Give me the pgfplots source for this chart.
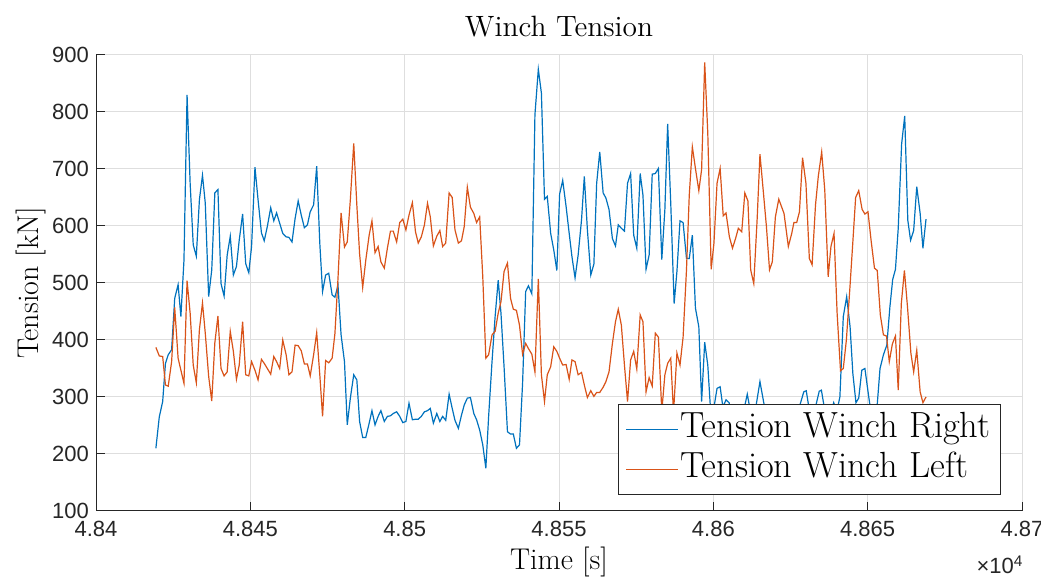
\documentclass[border=0pt]{standalone}
\usepackage{fontspec}
\usepackage{pgfplots}
\usepackage{pgfplotstable}
\pgfplotsset{compat=1.18}
\newfontfamily\ticksf{Liberation Sans}
\definecolor{mblue}{rgb}{0,0.447,0.741}
\definecolor{morange}{rgb}{0.85,0.325,0.098}
\definecolor{mgray}{rgb}{0.15,0.15,0.15}

\pgfplotstableread{
t v
48419.4 210
48420.5 265
48421.6 292
48422.5 359
48423.4 374
48424.5 383
48425.5 473
48426.6 497
48427.5 441
48428.5 540
48429.5 830
48430.5 675
48431.5 567
48432.5 547
48433.5 646
48434.5 689
48435.4 640
48436.5 476
48437.5 523
48438.5 658
48439.5 664
48440.5 499
48441.5 477
48442.5 549
48443.5 582
48444.5 514
48445.5 529
48446.4 575
48447.5 621
48448.5 534
48449.5 518
48450.4 564
48451.5 703
48452.5 646
48453.6 588
48454.5 574
48455.5 599
48456.6 632
48457.6 609
48458.5 623
48459.5 605
48460.5 587
48461.6 581
48462.5 580
48463.5 572
48464.5 613
48465.5 644
48466.5 619
48467.5 597
48468.5 602
48469.4 625
48470.5 637
48471.5 705
48472.5 570
48473.4 485
48474.4 514
48475.4 517
48476.5 479
48477.4 475
48478.4 496
48479.4 409
48480.5 362
48481.4 251
48482.4 298
48483.5 339
48484.5 330
48485.4 257
48486.4 229
48487.4 229
48488.5 254
48489.4 276
48490.4 251
48491.4 266
48492.3 276
48493.4 257
48494.4 266
48495.4 267
48496.3 271
48497.4 274
48498.4 266
48499.4 255
48500.4 257
48501.4 289
48502.5 260
48503.5 261
48504.4 261
48505.4 266
48506.4 274
48507.4 276
48508.3 280
48509.3 254
48510.4 271
48511.4 257
48512.3 266
48513.3 259
48514.4 305
48515.4 280
48516.3 259
48517.4 245
48518.4 268
48519.3 286
48520.3 298
48521.3 299
48522.4 271
48523.3 260
48524.3 242
48525.3 216
48526.3 175
48527.2 266
48528.3 362
48529.3 441
48530.3 505
48531.2 447
48532.2 353
48533.3 239
48534.3 235
48535.2 235
48536.2 210
48537.2 216
48538.2 324
48539.2 485
48540.1 495
48541.2 481
48542.2 795
48543.3 875
48544.3 833
48545.3 647
48546.2 652
48547.3 587
48548.3 558
48549.3 522
48550.2 656
48551.2 680
48552.3 634
48553.3 587
48554.2 546
48555.2 509
48556.2 549
48557.3 611
48558.2 687
48559.2 593
48560.3 514
48561.3 533
48562.2 675
48563.2 730
48564.3 658
48565.2 649
48566.2 629
48567.3 578
48568.3 565
48569.2 602
48570.2 596
48571.2 591
48572.2 675
48573.2 692
48574.2 584
48575.2 561
48576.3 692
48577.2 654
48578.2 524
48579.2 549
48580.2 691
48581.2 692
48582.2 701
48583.3 541
48584.3 629
48585.2 779
48586.2 640
48587.3 464
48588.2 520
48589.2 609
48590.2 606
48591.3 543
48592.2 543
48593.2 584
48594.2 456
48595.3 423
48596.2 292
48597.2 396
48598.2 356
48599.2 268
48600.2 282
48601.2 315
48602.2 318
48603.1 282
48604.1 295
48605.1 290
48606 265
48607 255
48608 262
48609 270
48610 280
48611 305
48612 275
48613 258
48614 290
48615.1 327
48616 300
48617 270
48618 262
48619 255
48620 265
48621 270
48622 260
48623 268
48624 275
48625 270
48626 262
48627 270
48628 285
48629.3 309
48630.1 311
48631 280
48632 262
48633 280
48634.3 310
48635 312
48636 280
48637 262
48638 270
48639 290
48640 275
48641 300
48642.1 441
48643.2 476
48644.3 423
48645.2 341
48646.2 290
48647.1 298
48648.1 347
48649.1 350
48650.2 306
48651 275
48652 260
48653 280
48654.0 350
48655.1 374
48656.2 391
48657.2 458
48658.1 506
48659.0 524
48659.9 596
48661.0 744
48662.0 793
48663.0 610
48663.9 575
48664.9 592
48665.9 669
48667.0 622
48667.9 561
48668.9 612
}\rightdata

\pgfplotstableread{
t v
48419.4 387
48420.5 372
48421.6 371
48422.5 321
48423.4 319
48424.5 362
48425.5 457
48426.6 368
48427.5 347
48428.5 324
48429.5 504
48430.5 447
48431.5 356
48432.5 325
48433.5 418
48434.5 465
48435.4 412
48436.5 336
48437.5 293
48438.5 395
48439.5 442
48440.5 350
48441.5 337
48442.5 344
48443.5 415
48444.5 380
48445.5 331
48446.4 356
48447.5 432
48448.5 339
48449.5 337
48450.4 362
48451.5 347
48452.5 330
48453.6 366
48454.5 359
48455.5 350
48456.6 340
48457.6 371
48458.5 362
48459.5 350
48460.5 400
48461.6 374
48462.5 339
48463.5 344
48464.5 391
48465.5 390
48466.5 381
48467.5 358
48468.5 358
48469.4 337
48470.5 374
48471.5 413
48472.5 339
48473.4 266
48474.4 364
48475.4 360
48476.5 368
48477.4 411
48478.4 508
48479.4 623
48480.5 563
48481.4 572
48482.4 646
48483.5 745
48484.5 637
48485.4 551
48486.4 492
48487.4 540
48488.5 584
48489.4 609
48490.4 553
48491.4 564
48492.3 537
48493.4 526
48494.4 561
48495.4 591
48496.3 591
48497.4 572
48498.4 606
48499.4 612
48500.4 593
48501.4 619
48502.5 641
48503.5 590
48504.4 570
48505.4 581
48506.4 602
48507.4 640
48508.3 616
48509.3 565
48510.4 582
48511.4 592
48512.3 564
48513.3 570
48514.4 658
48515.4 650
48516.3 593
48517.4 570
48518.4 574
48519.3 599
48520.3 668
48521.3 633
48522.4 622
48523.3 606
48524.3 616
48525.3 511
48526.3 368
48527.2 374
48528.3 409
48529.3 415
48530.3 447
48531.2 467
48532.2 520
48533.3 535
48534.3 473
48535.2 454
48536.2 452
48537.2 426
48538.2 375
48539.2 394
48540.1 385
48541.2 375
48542.2 344
48543.3 507
48544.3 339
48545.3 292
48546.2 339
48547.3 353
48548.3 388
48549.3 380
48550.2 368
48551.2 356
48552.3 357
48553.3 331
48554.2 365
48555.2 362
48556.2 339
48557.3 343
48558.2 321
48559.2 299
48560.3 311
48561.3 301
48562.2 308
48563.2 308
48564.3 317
48565.2 327
48566.2 344
48567.3 394
48568.3 432
48569.2 454
48570.2 426
48571.2 356
48572.2 292
48573.2 365
48574.2 380
48575.2 349
48576.3 444
48577.2 432
48578.2 309
48579.2 334
48580.2 319
48581.2 412
48582.2 405
48583.3 275
48584.3 339
48585.2 359
48586.2 368
48587.1 272
48588.2 377
48589.2 356
48590.2 405
48591.3 523
48592.2 654
48593.2 739
48594.2 701
48595.3 662
48596.2 699
48597.2 887
48598.2 763
48599.3 524
48600.2 570
48601.2 675
48602.2 701
48603.2 618
48604.1 623
48605.2 581
48606.2 561
48607.2 578
48608.1 596
48609.2 590
48610.2 658
48611.2 644
48612.1 523
48613.1 499
48614.2 613
48615.1 726
48616.1 666
48617.2 599
48618.2 523
48619.1 537
48620.1 616
48621.2 647
48622.9 622
48624.3 564
48625.4 587
48626.1 606
48627.0 606
48627.9 625
48628.9 720
48630.0 675
48631.1 543
48632.0 532
48633.1 637
48634.0 687
48635.1 730
48636.1 663
48637.2 511
48638.1 564
48639.1 587
48640.1 447
48641.2 346
48642.1 350
48643.1 400
48644.2 488
48645.1 564
48646.1 650
48647.1 662
48648.2 629
48649.1 621
48650.1 625
48651.1 575
48652.2 526
48653.1 522
48654.1 444
48655.1 409
48656.1 407
48657.0 362
48658.0 393
48659.0 407
48659.9 312
48660.9 464
48661.9 522
48662.9 458
48664.0 377
48664.9 344
48665.9 382
48667.0 309
48667.9 290
48668.9 300
}\leftdata

\begin{document}
\begin{tikzpicture}
\begin{axis}[
  width=463pt, height=228pt, scale only axis,
  xmin=48400, xmax=48700, ymin=100, ymax=900,
  enlargelimits=false,
  xtick={48400,48450,48500,48550,48600,48650,48700},
  xticklabels={4.84,4.845,4.85,4.855,4.86,4.865,4.87},
  scaled x ticks=false,
  ytick={100,200,300,400,500,600,700,800,900},
  axis x line*=bottom, axis y line*=left,
  axis line style={mgray, line width=0.5pt, -},
  tick style={mgray, line width=0.5pt},
  tick align=inside, major tick length=4.5pt,
  grid=major, major grid style={black!13, line width=0.5pt},
  /pgf/number format/assume math mode=true,
  tick label style={font=\ticksf\fontsize{11}{13}\selectfont, text=mgray},
  xticklabel style={yshift=-1.5pt},
  title={Winch Tension},
  title style={at={(axis description cs:0.5,1)}, anchor=base, yshift=3pt, font=\fontsize{14.7}{17}\selectfont},
  xlabel={Time [s]},
  xlabel style={at={(axis description cs:0.5,0)}, anchor=base, yshift=-29.5pt, font=\fontsize{15}{18}\selectfont},
  ylabel={Tension [kN]},
  ylabel style={at={(axis description cs:-0.0626,0.5)}, anchor=base, font=\fontsize{15}{18}\selectfont},
  legend style={at={(axis description cs:1,0)}, anchor=south east, xshift=-10.5pt, yshift=8pt,
    draw=mgray, line width=0.5pt, fill=white,
    font=\fontsize{18.2}{21}\selectfont,
    inner xsep=4pt, inner ysep=3.25pt, row sep=1.5pt,
    nodes={inner sep=1pt, text height=12.5pt, text depth=4pt},
    cells={anchor=west}},
]
\addlegendimage{legend image code/.code={\node[inner sep=0pt, outer sep=0pt, text height=0.6pt, text depth=0pt, anchor=base west] at (0pt,-0.3pt) {\textcolor{mblue}{\rule{26pt}{0.6pt}}};}}
\addlegendentry{Tension Winch Right}
\addlegendimage{legend image code/.code={\node[inner sep=0pt, outer sep=0pt, text height=0.6pt, text depth=0pt, anchor=base west] at (0pt,-0.3pt) {\textcolor{morange}{\rule{26pt}{0.6pt}}};}}
\addlegendentry{Tension Winch Left}
\addplot[color=mblue, line width=0.6pt, forget plot] table[x=t, y=v] {\rightdata};
\addplot[color=morange, line width=0.6pt, forget plot] table[x=t, y=v] {\leftdata};
\end{axis}
\node[anchor=base, font=\ticksf\fontsize{11}{13}\selectfont, text=mgray] at ([xshift=-11pt,yshift=-31.5pt]current axis.south east) {×10\textsuperscript{4}};
\pgfresetboundingbox
\path ([shift={(-48pt,-33pt)}]current axis.south west) rectangle ([shift={(9.5pt,27.5pt)}]current axis.north east);
\end{tikzpicture}
\end{document}
